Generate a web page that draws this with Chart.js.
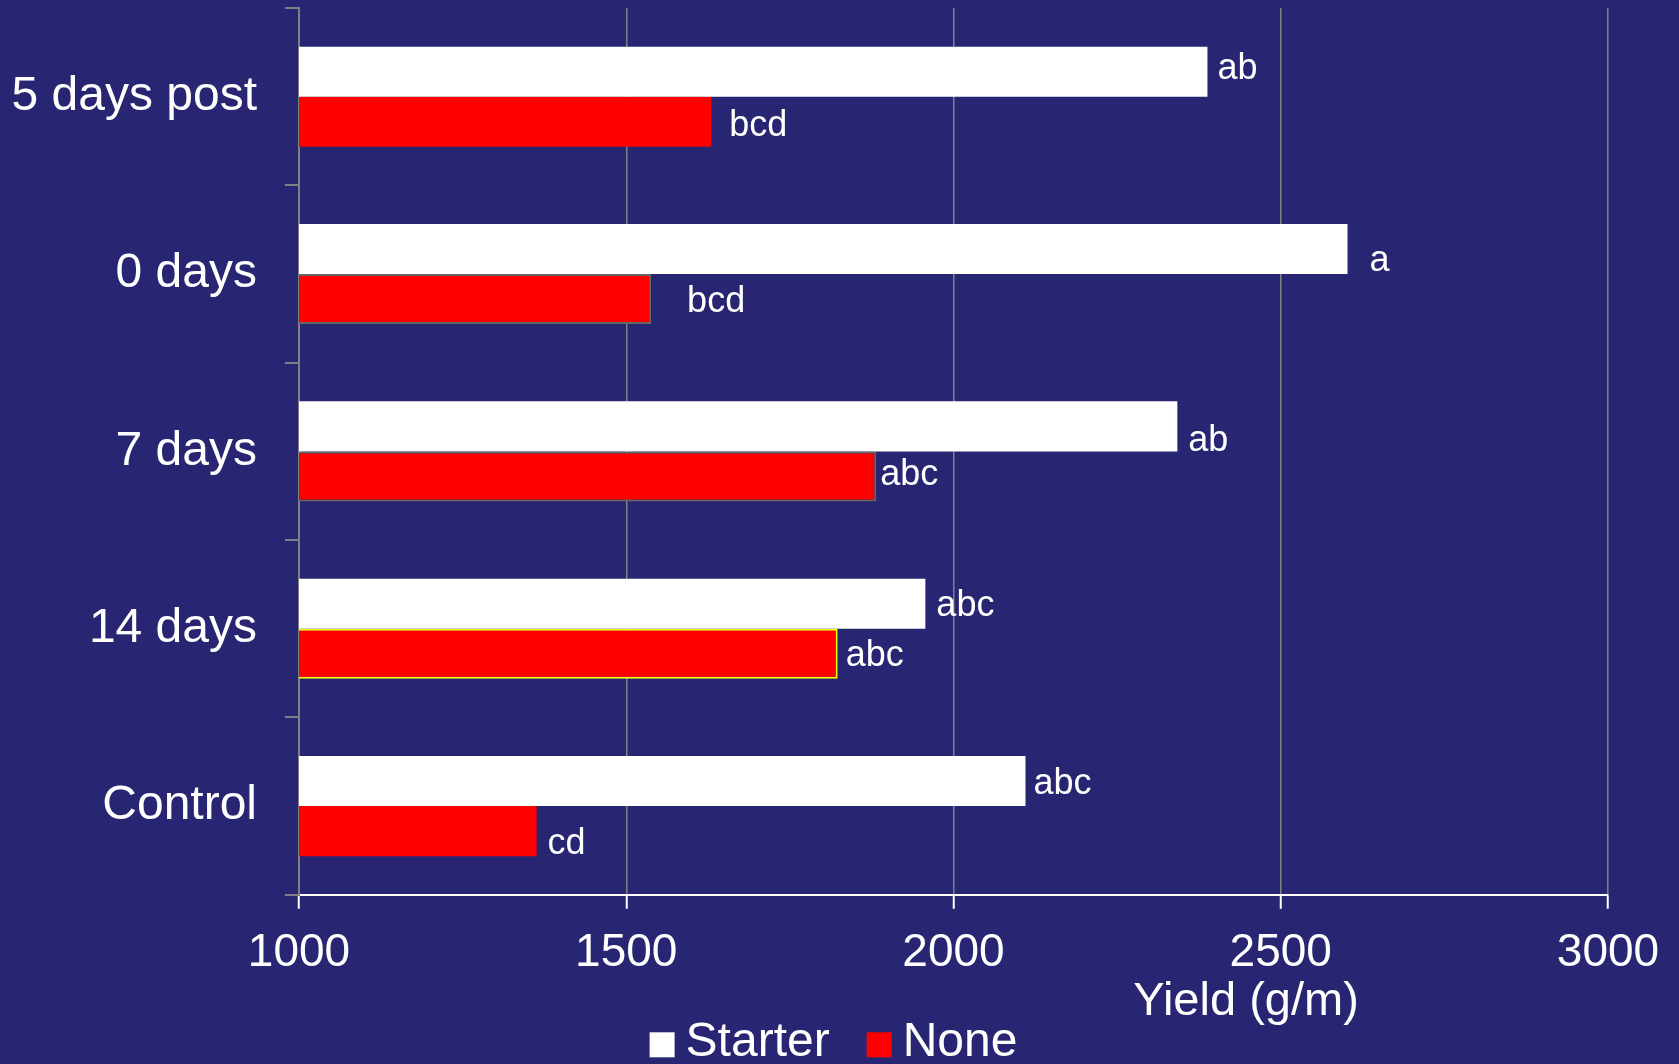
<!DOCTYPE html>
<html>
<head>
<meta charset="utf-8">
<script src="https://cdn.jsdelivr.net/npm/chart.js@4/dist/chart.umd.min.js"></script>
<style>
  html, body { margin: 0; padding: 0; background: #282672; overflow: hidden; }
  canvas { display: block; }
</style>
</head>
<body>
<canvas id="myChart" width="1679" height="1064"></canvas>
<script>
// data
const categories = ["5 days post", "0 days", "7 days", "14 days", "Control"];
const starterYield = [2388, 2602, 2342, 1957, 2110];
const noneYield = [1630, 1538, 1882, 1823, 1363];
const starterLetters = ["ab", "a", "ab", "abc", "abc"];
const noneLetters = ["bcd", "bcd", "abc", "abc", "cd"];
const xTicks = [1000, 1500, 2000, 2500, 3000];

// where each letter label sits relative to its bar end (px)
const starterNudge = [[10, -3], [22, 12], [11, 15], [11, 2], [8, 3]];
const noneNudge = [[18, 4], [36, 3], [4, -1], [8, 2], [11, 13]];

const bgColor = "#282672";
const gridGray = "#808080";
const fontFamily = "'Liberation Sans', Arial, sans-serif";

Chart.defaults.font.family = fontFamily;
Chart.defaults.color = "#ffffff";

const background = {
  id: "background",
  beforeDraw(chart) {
    const ctx = chart.ctx;
    ctx.save();
    ctx.fillStyle = bgColor;
    ctx.fillRect(0, 0, chart.width, chart.height);
    ctx.restore();
  },
};

const letterLabels = {
  id: "letterLabels",
  afterDatasetsDraw(chart) {
    const ctx = chart.ctx;
    const letters = [starterLetters, noneLetters];
    const nudges = [starterNudge, noneNudge];
    ctx.save();
    ctx.font = "36px " + fontFamily;
    ctx.fillStyle = "#ffffff";
    ctx.textAlign = "left";
    ctx.textBaseline = "middle";
    chart.data.datasets.forEach((ds, d) => {
      chart.getDatasetMeta(d).data.forEach((bar, i) => {
        ctx.fillText(letters[d][i], bar.x + nudges[d][i][0], bar.y + nudges[d][i][1]);
      });
    });
    ctx.restore();
  },
};

// axis title and legend sit lower right of the plot, drawn by hand
const bottomTexts = {
  id: "bottomTexts",
  afterDraw(chart) {
    const ctx = chart.ctx;
    const area = chart.chartArea;
    ctx.save();
    ctx.fillStyle = "#ffffff";
    ctx.textBaseline = "middle";

    ctx.font = "47px " + fontFamily;
    ctx.textAlign = "center";
    ctx.fillText("Yield (g/m)", area.left + 0.7235 * (area.right - area.left), area.bottom + 107);

    ctx.font = "48px " + fontFamily;
    ctx.textAlign = "left";
    const box = 25;
    const gap = 11;
    const spacing = 37;
    const items = chart.data.datasets.map((ds) => ({ text: ds.label, color: ds.backgroundColor }));
    let total = 0;
    items.forEach((it, i) => {
      total += box + gap + ctx.measureText(it.text).width + (i > 0 ? spacing : 0);
    });
    let x = chart.width / 2 - 6 - total / 2;
    const y = area.bottom + 148;
    items.forEach((it) => {
      ctx.fillStyle = it.color;
      ctx.fillRect(x, y + 2 - box / 2, box, box);
      ctx.fillStyle = "#ffffff";
      ctx.fillText(it.text, x + box + gap, y);
      x += box + gap + ctx.measureText(it.text).width + spacing;
    });
    ctx.restore();
  },
};

const ctx = document.getElementById("myChart").getContext("2d");
const myChart = new Chart(ctx, {
  type: "bar",
  data: {
    labels: categories,
    datasets: [
      {
        label: "Starter",
        data: starterYield,
        backgroundColor: "#ffffff",
        borderWidth: 0,
      },
      {
        label: "None",
        data: noneYield,
        backgroundColor: "#ff0000",
        borderColor: ["#ff0000", "#666666", "#666666", "#ffff00", "#ff0000"],
        borderWidth: [0, 2, 2, 2, 0],
        borderSkipped: false,
      },
    ],
  },
  options: {
    indexAxis: "y",
    responsive: false,
    animation: false,
    categoryPercentage: 0.5643,
    barPercentage: 1.0,
    layout: { padding: { left: 13, right: 71, top: 8, bottom: 66 } },
    plugins: {
      tooltip: { enabled: false },
      legend: { display: false },
    },
    scales: {
      x: {
        type: "linear",
        min: xTicks[0],
        max: xTicks[xTicks.length - 1],
        afterBuildTicks(axis) {
          axis.ticks = xTicks.map((v) => ({ value: v }));
        },
        afterFit(axis) {
          axis.paddingLeft = 0;
          axis.paddingRight = 0;
        },
        grid: {
          color: gridGray,
          lineWidth: 1.5,
          tickColor: "#ffffff",
          tickLength: 14,
          tickWidth: 2,
        },
        border: { color: "#ffffff", width: 2 },
        ticks: {
          color: "#ffffff",
          font: { size: 46 },
          padding: 17,
          maxRotation: 0,
          callback: (v) => String(v),
        },
      },
      y: {
        afterFit(axis) {
          axis.width = 286;
          axis.paddingTop = 0;
          axis.paddingBottom = 0;
        },
        grid: {
          drawOnChartArea: false,
          offset: true,
          color: gridGray,
          tickLength: 14,
          lineWidth: 2,
        },
        border: { color: gridGray, width: 2 },
        ticks: {
          color: "#ffffff",
          font: { size: 48 },
          padding: 28,
        },
      },
    },
  },
  plugins: [background, letterLabels, bottomTexts],
});
</script>
</body>
</html>
